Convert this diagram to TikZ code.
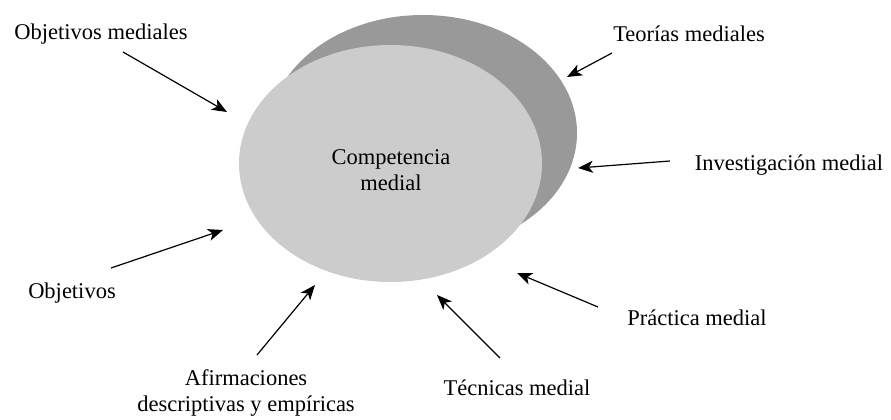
\documentclass[tikz,border=0pt]{standalone}
\usepackage{fontspec}
\setmainfont{Liberation Serif}
\usetikzlibrary{arrows.meta,shapes.geometric}
\begin{document}
\begin{tikzpicture}[x=1pt,y=-1pt,
  lbl/.style={font=\fontsize{22.5}{25.5}\selectfont, inner sep=0pt, align=center},
  blob/.style={ellipse, inner sep=0pt, draw=none},
  arr/.style={line width=1.2pt, -{Stealth[length=15pt,width=12pt,inset=4pt]}}]
\useasboundingbox (0,0) rectangle (891,420);
% ellipses
\node[blob, fill={rgb,255:red,153;green,153;blue,153}, minimum width=308pt, minimum height=236pt] (back) at (423,133) {};
\node[blob, fill={rgb,255:red,204;green,204;blue,204}, minimum width=303pt, minimum height=237pt] (front) at (390.5,163.5) {};
\node[lbl] (comp) at (391,170) {Competencia\\medial};
% labels
\node[lbl] (objmed) at (101,34) {Objetivos mediales};
\node[lbl] (teo) at (689,34) {Teorías mediales};
\node[lbl] (inv) at (789,165) {Investigación medial};
\node[lbl] (obj) at (72,293) {Objetivos};
\node[lbl] (afi) at (246,393) {Afirmaciones\\descriptivas y empíricas};
\node[lbl] (tec) at (517,388) {Técnicas medial};
\node[lbl] (pra) at (697,318) {Práctica medial};
% arrow end points
\coordinate (s1) at (123,52);  \coordinate (t1) at (227,112);
\coordinate (s2) at (612,53);  \coordinate (t2) at (567,77);
\coordinate (s3) at (670,161); \coordinate (t3) at (578,168);
\coordinate (s4) at (111,268); \coordinate (t4) at (223,230);
\coordinate (s5) at (257,355); \coordinate (t5) at (315,285);
\coordinate (s6) at (500,358); \coordinate (t6) at (437,295);
\coordinate (s7) at (598,307); \coordinate (t7) at (517,273);
\draw[arr] (s1) -- (t1);
\draw[arr] (s2) -- (t2);
\draw[arr] (s3) -- (t3);
\draw[arr] (s4) -- (t4);
\draw[arr] (s5) -- (t5);
\draw[arr] (s6) -- (t6);
\draw[arr] (s7) -- (t7);
\end{tikzpicture}
\end{document}
